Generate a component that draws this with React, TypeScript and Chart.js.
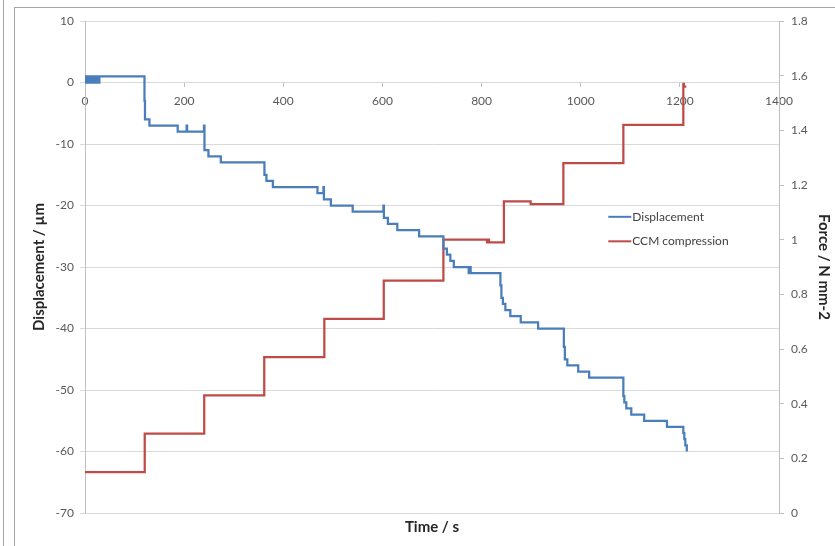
import React, { useEffect, useRef } from 'react';
import { Chart, registerables } from 'chart.js';

Chart.register(...registerables);

// ---- Data ----
const dispTime = [
  0, 2, 3, 5, 6, 8, 11, 13, 17, 19, 21, 23, 25, 27, 29,
  120, 121, 130, 187, 205, 206, 240, 241, 249, 274,
  362, 366, 379, 469, 481, 482, 496, 540, 602, 603, 611, 630, 674,
  723, 730, 737, 744, 774, 776, 778, 838, 840, 843, 848, 858, 879, 914,
  966, 968, 973, 995, 1017, 1086, 1088, 1092, 1102, 1128, 1174,
  1207, 1209, 1211, 1214,
];
const dispValue = [
  1, 0, 1, 0, 1, 0, 1, 0, 1, 0, 1, 0, 1, 0, 1,
  -3, -6, -7, -8, -7, -8, -7, -11, -12, -13,
  -15, -16, -17, -18, -17, -19, -20, -21, -20, -22, -23, -24, -25,
  -27, -28, -29, -30, -31, -30, -31, -33, -35, -36, -37, -38, -39, -40,
  -43, -45, -46, -47, -48, -51, -52, -53, -54, -55, -56,
  -57, -58, -59, -60,
];

const forceTime = [0, 120.5, 240.5, 361.6, 482.8, 602.7, 723, 811, 813, 815, 845, 899, 965, 1086, 1207, 1208, 1213];
const forceValue = [0.15, 0.29, 0.43, 0.57, 0.71, 0.85, 1.0, 0.99, 1.0, 0.99, 1.14, 1.13, 1.28, 1.42, 1.57, 1.56, 1.56];

const xTickValues = [0, 200, 400, 600, 800, 1000, 1200, 1400];
const leftTickValues = [-70, -60, -50, -40, -30, -20, -10, 0, 10];
const rightTickValues = [0, 0.2, 0.4, 0.6, 0.8, 1, 1.2, 1.4, 1.6, 1.8];

const seriesLabels = ['Displacement', 'CCM compression'];
const seriesColors = ['#4A7EBB', '#BE4B48'];

const FONT = 'Lato, "Liberation Sans", sans-serif';
const TICK_COLOR = '#595959';
const TITLE_COLOR = '#262626';

const insideLegend = {
  id: 'insideLegend',
  afterDraw(chart: any) {
    const { ctx, chartArea } = chart;
    const w = chartArea.right - chartArea.left;
    const h = chartArea.bottom - chartArea.top;
    const x0 = chartArea.left + w * 0.754;
    let y = chartArea.top + h * 0.398;
    ctx.save();
    ctx.font = `12px ${FONT}`;
    ctx.textBaseline = 'middle';
    ctx.textAlign = 'left';
    chart.data.datasets.forEach((ds: any) => {
      ctx.strokeStyle = ds.borderColor;
      ctx.lineWidth = 2;
      ctx.beginPath();
      ctx.moveTo(x0, y);
      ctx.lineTo(x0 + 23, y);
      ctx.stroke();
      ctx.fillStyle = '#404040';
      ctx.fillText(ds.label, x0 + 24, y);
      y += 24.5;
    });
    ctx.restore();
  },
};

export default function App() {
  const ref = useRef<HTMLCanvasElement>(null);

  useEffect(() => {
    if (!ref.current) return;
    const chart = new Chart(ref.current, {
      type: 'line',
      data: {
        datasets: [
          {
            label: seriesLabels[0],
            data: dispTime.map((t, i) => ({ x: t, y: dispValue[i] })),
            borderColor: seriesColors[0],
            backgroundColor: seriesColors[0],
            borderWidth: 2.25,
            pointRadius: 0,
            stepped: 'before',
            yAxisID: 'y',
            xAxisID: 'x',
          },
          {
            label: seriesLabels[1],
            data: forceTime.map((t, i) => ({ x: t, y: forceValue[i] })),
            borderColor: seriesColors[1],
            backgroundColor: seriesColors[1],
            borderWidth: 2.25,
            pointRadius: 0,
            stepped: 'before',
            yAxisID: 'y1',
            xAxisID: 'x',
          },
        ],
      },
      options: {
        animation: false,
        responsive: false,
        events: [],
        layout: { padding: { left: 25, right: 0, top: 21, bottom: 0 } },
        plugins: { legend: { display: false }, tooltip: { enabled: false } },
        scales: {
          x: {
            type: 'linear',
            position: { y: 0 } as any,
            min: 0,
            max: 1400,
            afterBuildTicks: (axis: any) => {
              axis.ticks = xTickValues.map((v) => ({ value: v }));
            },
            afterFit: (axis: any) => {
              axis.height = 0;
            },
            ticks: {
              color: TICK_COLOR,
              font: { family: FONT, size: 12 },
              padding: 7,
              maxRotation: 0,
              autoSkip: false,
              callback: (v: any) => String(v),
            },
            grid: { display: true, drawOnChartArea: false, drawTicks: true, tickLength: 4, color: '#bfbfbf' },
            border: { display: false },
          },
          xt: {
            type: 'linear',
            position: 'bottom',
            min: 0,
            max: 1400,
            afterFit: (axis: any) => {
              axis.height = 33;
            },
            ticks: { display: false },
            grid: { display: false, drawTicks: false },
            border: { display: false },
            title: {
              display: true,
              text: 'Time / s',
              color: TITLE_COLOR,
              font: { family: FONT, size: 15, weight: 'bold' },
              padding: { top: 0, bottom: 10 },
            },
          },
          y: {
            type: 'linear',
            position: 'left',
            min: -70,
            max: 10,
            afterBuildTicks: (axis: any) => {
              axis.ticks = leftTickValues.map((v) => ({ value: v }));
            },
            afterFit: (axis: any) => {
              axis.width = 60;
            },
            ticks: {
              color: TICK_COLOR,
              font: { family: FONT, size: 12 },
              padding: 6,
              callback: (v: any) => String(v),
            },
            grid: { color: '#d9d9d9', tickLength: 5, drawTicks: true },
            border: { display: true, color: '#bfbfbf' },
            title: {
              display: true,
              text: 'Displacement / µm',
              color: TITLE_COLOR,
              font: { family: FONT, size: 15, weight: 'bold' },
              padding: { top: 5, bottom: 0 },
            },
          },
          y1: {
            type: 'linear',
            position: 'right',
            min: 0,
            max: 1.8,
            afterBuildTicks: (axis: any) => {
              axis.ticks = rightTickValues.map((v) => ({ value: v }));
            },
            afterFit: (axis: any) => {
              axis.width = 56;
            },
            ticks: {
              color: TICK_COLOR,
              font: { family: FONT, size: 12 },
              padding: 7,
              callback: (v: any) => String(Math.round(Number(v) * 10) / 10),
            },
            grid: { drawOnChartArea: false, tickLength: 5, drawTicks: true, color: '#bfbfbf' },
            border: { display: true, color: '#bfbfbf' },
            title: {
              display: true,
              text: 'Force / N mm-2',
              color: TITLE_COLOR,
              font: { family: FONT, size: 15, weight: 'bold' },
              padding: { top: 2, bottom: 0 },
            },
          },
        },
      },
      plugins: [insideLegend],
    } as any);
    return () => chart.destroy();
  }, []);

  return (
    <div style={{ position: 'fixed', left: 0, top: 0, width: 835, height: 546, background: '#fff', overflow: 'hidden' }}>
      <div style={{ position: 'absolute', left: 3, top: 0, width: 1, height: 546, background: '#a6a6a6' }} />
      <div
        style={{
          position: 'absolute',
          left: 14,
          top: 7,
          right: -2,
          bottom: -2,
          borderLeft: '1px solid #a6a6a6',
          borderTop: '1px solid #a6a6a6',
        }}
      />
      <canvas ref={ref} width={835} height={546} style={{ position: 'absolute', left: 0, top: 0 }} />
    </div>
  );
}
